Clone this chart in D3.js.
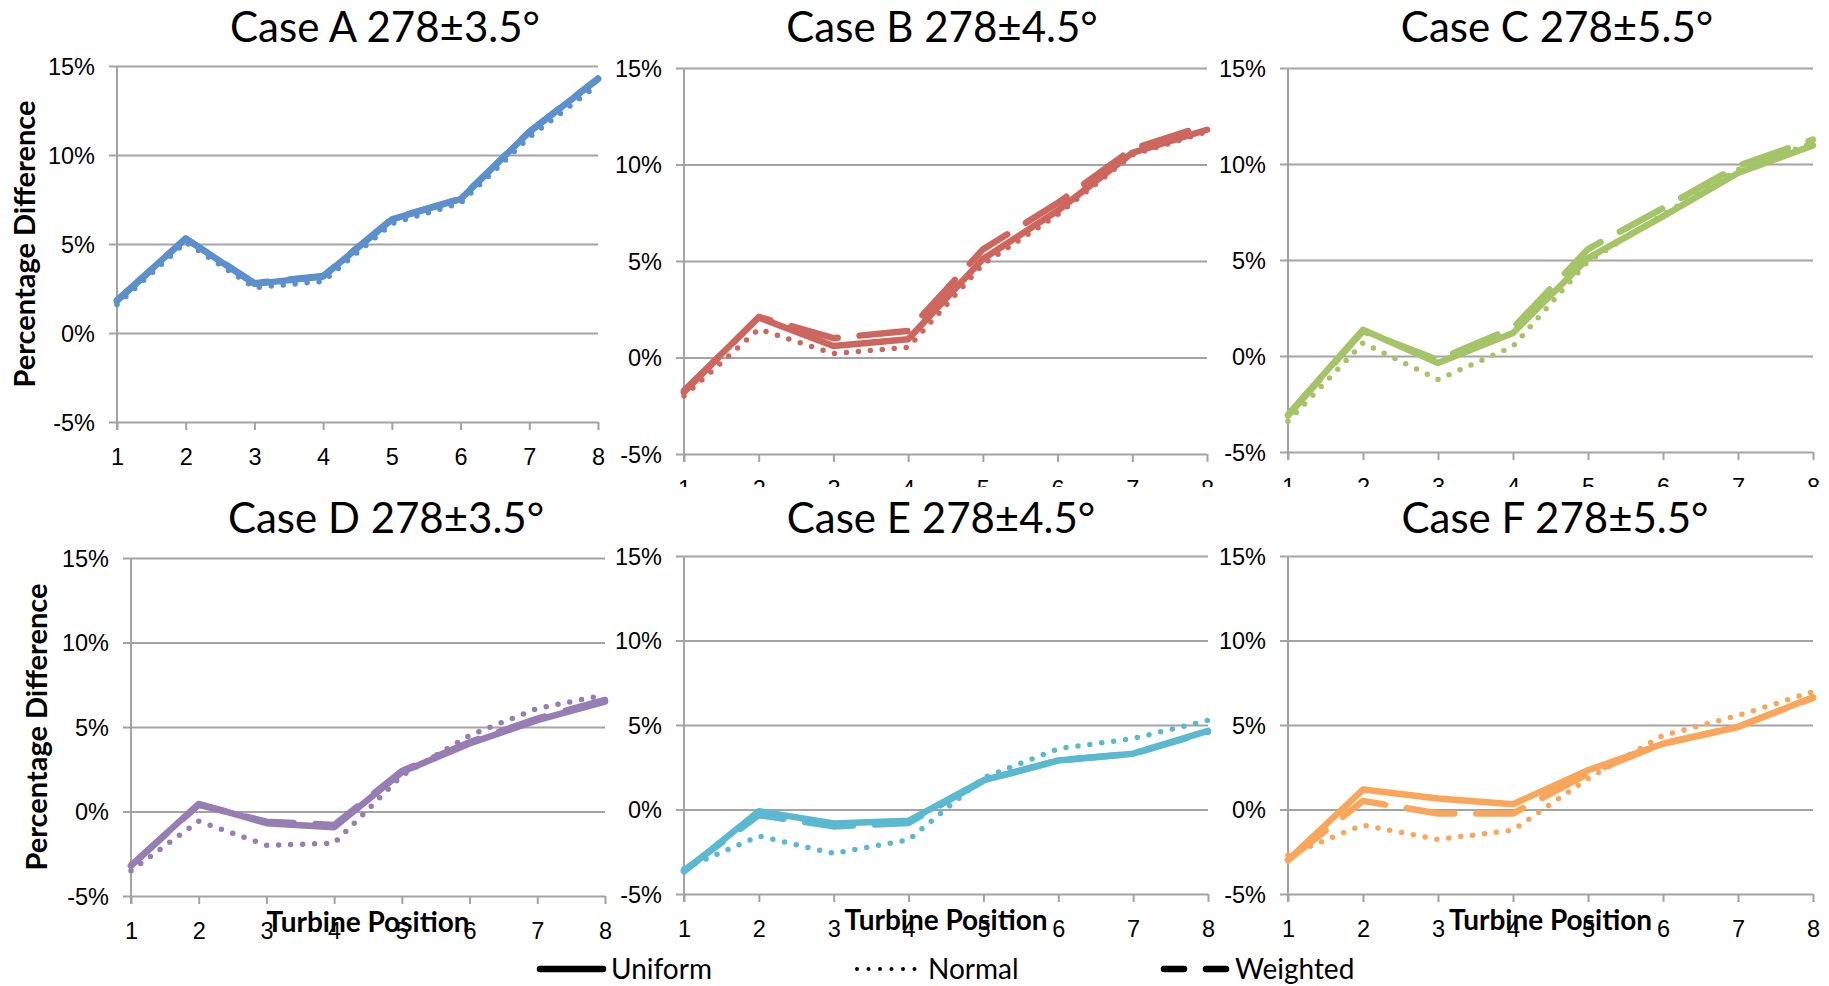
<!DOCTYPE html>
<html>
<head>
<meta charset="utf-8">
<script src="https://cdn.jsdelivr.net/npm/d3@7"></script>
<style>
  body { margin: 0; background: #fff; }
  svg { display: block; font-family: Lato, "Open Sans", sans-serif; }
</style>
</head>
<body>
<div id="chart"></div>
<script>
// Data (percent values)
const positions = [1, 2, 3, 4, 5, 6, 7, 8];
const yTicks = [-5, 0, 5, 10, 15];
const caseTitles = ['Case A 278±3.5°', 'Case B 278±4.5°', 'Case C 278±5.5°',
                    'Case D 278±3.5°', 'Case E 278±4.5°', 'Case F 278±5.5°'];
const caseColors = ['#5b90cc', '#cd665f', '#a5c468', '#967db4', '#5ab9d0', '#f9a65a'];
const seriesNames = ['Uniform', 'Normal', 'Weighted'];

const uniform = [
    [1.84, 5.31, 2.76, 3.17, 6.38, 7.52, 11.3, 14.26],
    [-1.72, 2.07, 0.6, 0.95, 5.1, 7.6, 10.6, 11.8],
    [-3.06, 1.37, -0.36, 1.2, 5.1, 7.27, 9.53, 10.97],
    [-3.2, 0.45, -0.69, -0.93, 2.33, 4.03, 5.4, 6.5],
    [-3.67, -0.1, -0.83, -0.67, 1.73, 2.9, 3.3, 4.65],
    [-2.99, 1.18, 0.65, 0.31, 2.32, 3.89, 4.88, 6.64]
];
const normal = [
    [1.6, 5.1, 2.55, 2.9, 6.15, 7.3, 11.0, 13.95],
    [-2.0, 1.47, 0.2, 0.52, 4.83, 7.4, 10.5, 11.7],
    [-3.4, 0.68, -1.23, 0.5, 4.93, 7.36, 9.7, 11.1],
    [-3.5, -0.57, -2.0, -1.88, 2.13, 4.5, 6.1, 6.9],
    [-3.5, -1.57, -2.6, -1.8, 1.87, 3.6, 4.2, 5.27],
    [-2.7, -0.92, -1.77, -1.22, 1.83, 4.38, 5.56, 6.97]
];
const weighted = [
    [1.8, 5.3, 2.8, 3.2, 6.4, 7.55, 11.3, 14.3],
    [-1.8, 2.1, 1.0, 1.38, 5.6, 8.0, 10.8, 12.05],
    [-3.1, 1.3, -0.2, 1.46, 5.57, 7.7, 9.9, 11.27],
    [-3.2, 0.4, -0.6, -0.8, 2.4, 4.1, 5.5, 6.6],
    [-3.6, -0.33, -1.0, -0.8, 1.7, 2.9, 3.3, 4.6],
    [-3.0, 0.51, -0.24, -0.24, 2.12, 3.9, 4.9, 6.6]
];

// Layout of the six plot areas (pixels)
const boxes = [
    { left: 117, right: 598, top: 66, bottom: 422, titleX: 385, titleY: 42 },
    { left: 684, right: 1207, top: 68, bottom: 454, titleX: 942, titleY: 42 },
    { left: 1288, right: 1813, top: 68, bottom: 452, titleX: 1557, titleY: 42 },
    { left: 131, right: 605, top: 558, bottom: 896, titleX: 386, titleY: 533 },
    { left: 684, right: 1208, top: 556, bottom: 894, titleX: 941, titleY: 533 },
    { left: 1288, right: 1813, top: 556, bottom: 894, titleX: 1555, titleY: 533 }
];

const STYLE = {
    grid: '#a3a3a3',
    dashes: { Uniform: null, Normal: '0 12', Weighted: '48 22' },
    widths: { Uniform: 6.5, Normal: 5.5, Weighted: 6.5 }
};

const svg = d3.select('#chart').append('svg')
    .attr('width', 1829)
    .attr('height', 986);

function drawPanel(i) {
    const b = boxes[i];
    const x = d3.scaleLinear().domain([1, 8]).range([b.left, b.right]);
    const y = d3.scaleLinear().domain([-5, 15]).range([b.bottom, b.top]);
    const g = svg.append('g');

    // Title
    g.append('text')
        .attr('x', b.titleX)
        .attr('y', b.titleY)
        .attr('text-anchor', 'middle')
        .style('font-size', '42px')
        .text(caseTitles[i]);

    // Gridlines + y axis
    const yAxis = d3.axisLeft(y).tickValues(yTicks).tickFormat(d => d + '%')
        .tickSize(-(b.right - b.left)).tickPadding(22);
    const ya = g.append('g').attr('transform', `translate(${b.left},0)`).call(yAxis);
    ya.select('.domain').remove();
    ya.selectAll('.tick line').attr('stroke', STYLE.grid).attr('stroke-width', 2).attr('x1', -8);
    ya.selectAll('.tick text').style('font-size', '23.5px').attr('fill', '#000').attr('dy', '0.36em');

    // x axis
    const xAxis = d3.axisBottom(x).tickValues(positions).tickFormat(d3.format('d'))
        .tickSize(8).tickPadding(18);
    const xa = g.append('g').attr('transform', `translate(0,${b.bottom})`).call(xAxis);
    xa.select('.domain').remove();
    xa.selectAll('.tick line').attr('stroke', STYLE.grid).attr('stroke-width', 2);
    xa.selectAll('.tick text').style('font-size', '23.5px').attr('fill', '#000');

    g.append('line')
        .attr('x1', b.left).attr('x2', b.left)
        .attr('y1', b.top).attr('y2', b.bottom + 8)
        .attr('stroke', STYLE.grid).attr('stroke-width', 2);

    // Series
    const line = d3.line().x((d, k) => x(positions[k])).y(d => y(d));
    const data = { Uniform: uniform[i], Normal: normal[i], Weighted: weighted[i] };
    seriesNames.forEach(name => {
        g.append('path')
            .datum(data[name])
            .attr('d', line)
            .attr('fill', 'none')
            .attr('stroke', caseColors[i])
            .attr('stroke-width', STYLE.widths[name])
            .attr('stroke-linecap', 'round')
            .attr('stroke-linejoin', 'round')
            .attr('stroke-dasharray', STYLE.dashes[name]);
    });
}

// Top row
[0, 1, 2].forEach(drawPanel);

// Bottom row chart areas sit on top of the top row's x labels
svg.append('rect')
    .attr('x', 0).attr('y', 487)
    .attr('width', 1829).attr('height', 499)
    .attr('fill', '#fff');

[3, 4, 5].forEach(drawPanel);

// Axis titles
[0, 3].forEach((i, k) => {
    const b = boxes[i];
    const cx = k === 0 ? 23 : 35;
    svg.append('text')
        .attr('transform', `translate(${cx},${(b.top + b.bottom) / 2}) rotate(-90)`)
        .attr('text-anchor', 'middle')
        .attr('dominant-baseline', 'central')
        .style('font-size', '29px')
        .style('font-weight', 'bold')
        .text('Percentage Difference');
});

[3, 4, 5].forEach(i => {
    const b = boxes[i];
    svg.append('text')
        .attr('x', (b.left + b.right) / 2)
        .attr('y', b.bottom + 36)
        .attr('text-anchor', 'middle')
        .style('font-size', '28px')
        .style('font-weight', 'bold')
        .text('Turbine Position');
});

// Legend
const legendX = [537, 854, 1161];
const legendDash = { Uniform: null, Normal: '0 11.5', Weighted: '20 22' };
const legend = svg.append('g').attr('transform', 'translate(0,969)');
seriesNames.forEach((name, k) => {
    legend.append('line')
        .attr('x1', legendX[k] + 3).attr('x2', legendX[k] + 66)
        .attr('y1', 0).attr('y2', 0)
        .attr('stroke', '#000')
        .attr('stroke-width', name === 'Normal' ? 4 : 6.5)
        .attr('stroke-linecap', 'round')
        .attr('stroke-dasharray', legendDash[name]);
    legend.append('text')
        .attr('x', legendX[k] + 74)
        .attr('y', 0)
        .attr('dy', '0.36em')
        .style('font-size', '28px')
        .text(name);
});
</script>
</body>
</html>
